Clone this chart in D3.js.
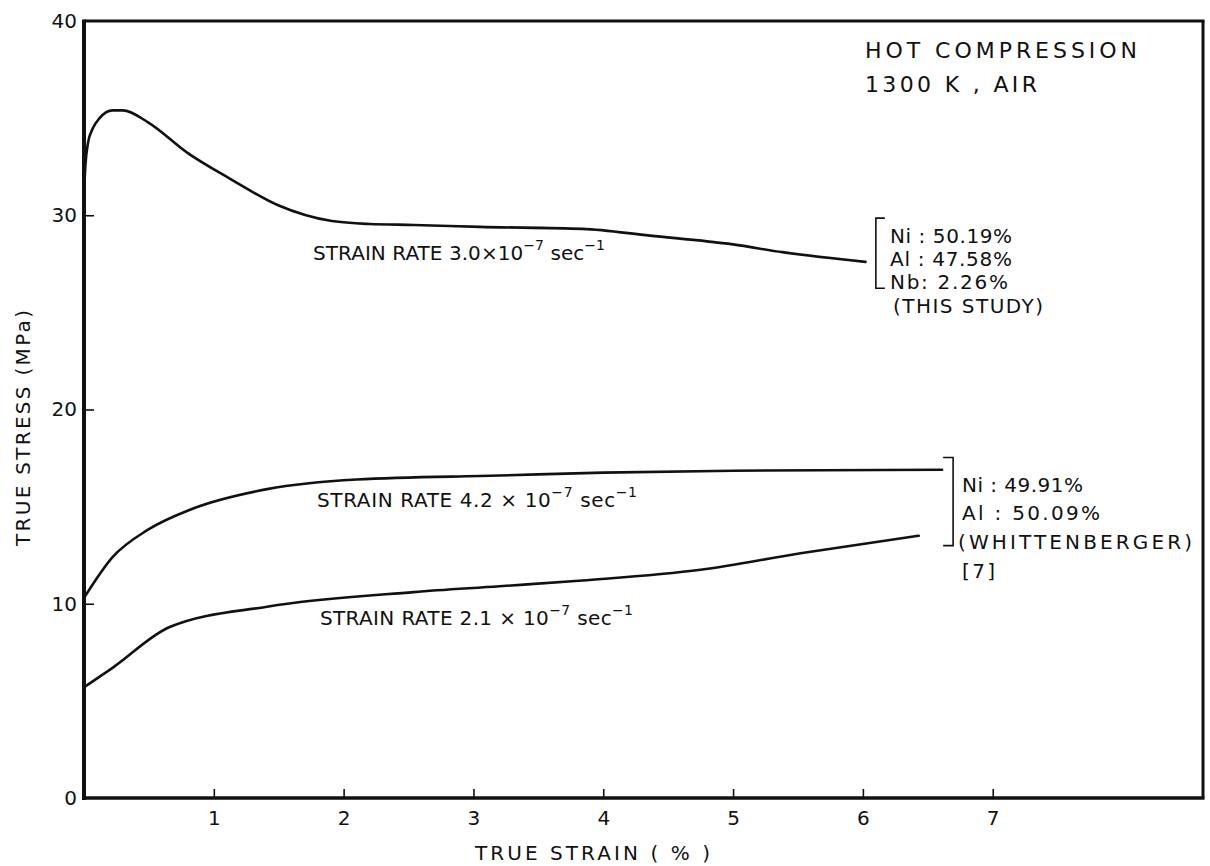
<!DOCTYPE html>
<html>
<head>
<meta charset="utf-8">
<script src="https://cdn.jsdelivr.net/npm/d3@7"></script>
<style>
  html, body { margin: 0; padding: 0; background: #fff; }
  svg { display: block; }
  text { font-family: "DejaVu Sans", "Liberation Sans", sans-serif; fill: #111; }
</style>
</head>
<body>
<svg id="chart" width="1210" height="866"></svg>
<script>
// ---- data ----
const xTicks = [1, 2, 3, 4, 5, 6, 7];
const yTicks = [0, 10, 20, 30, 40];

// strain rate 3.0e-7 (this study)
const strainA = [0, 0.01, 0.03, 0.07, 0.12, 0.22, 0.30, 0.49, 0.80, 1.12, 1.50, 1.91, 2.20, 2.54, 3.05, 3.84, 4.36, 5.00, 5.38, 6.02];
const stressA = [31.2, 32.5, 33.7, 34.5, 35.0, 35.4, 35.4, 34.8, 33.2, 31.9, 30.5, 29.7, 29.55, 29.5, 29.4, 29.3, 28.95, 28.5, 28.1, 27.6];

// strain rate 4.2e-7 (Whittenberger)
const strainB = [0, 0.22, 0.49, 0.84, 1.41, 2.10, 3.20, 4.00, 5.00, 6.61];
const stressB = [10.3, 12.4, 13.8, 14.9, 15.9, 16.4, 16.6, 16.75, 16.85, 16.9];

// strain rate 2.1e-7 (Whittenberger)
const strainC = [0, 0.22, 0.66, 1.41, 2.54, 3.20, 3.84, 4.75, 5.52, 6.43];
const stressC = [5.7, 6.7, 8.8, 9.85, 10.6, 10.9, 11.2, 11.75, 12.6, 13.5];

const seriesLabels = [
  { pre: "STRAIN RATE 3.0\u00d710", exp1: "\u22127", mid: " sec", exp2: "\u22121" },
  { pre: "STRAIN RATE 4.2 \u00d7 10", exp1: "\u22127", mid: " sec", exp2: "\u22121" },
  { pre: "STRAIN RATE 2.1 \u00d7 10", exp1: "\u22127", mid: " sec", exp2: "\u22121" }
];

// ---- layout ----
const L = 84, R = 1203, T = 21, B = 798;
const svg = d3.select("#chart");
const x = d3.scaleLinear().domain([0, 8.62]).range([L, R]);
const y = d3.scaleLinear().domain([0, 40]).range([B, T]);

// axes
const gx = svg.append("g").attr("transform", `translate(0,${B})`)
  .call(d3.axisBottom(x).tickValues(xTicks).tickSize(-9).tickPadding(13).tickFormat(d3.format("d")));
const gy = svg.append("g").attr("transform", `translate(${L},0)`)
  .call(d3.axisLeft(y).tickValues(yTicks).tickSize(-10).tickPadding(7).tickFormat(d3.format("d")));
[gx, gy].forEach(g => {
  g.select(".domain").remove();
  g.selectAll(".tick line").attr("stroke", "#111").attr("stroke-width", 1.6);
  g.selectAll(".tick text").attr("font-size", 20).attr("fill", "#111")
    .style("font-family", '"DejaVu Sans", sans-serif');
});
gy.selectAll(".tick").filter(d => d === 0 || d === 40).select("line").remove();

// frame
svg.append("line").attr("x1", L).attr("x2", L).attr("y1", T - 1.5).attr("y2", B + 2)
  .attr("stroke", "#111").attr("stroke-width", 4);
svg.append("line").attr("x1", L - 2).attr("x2", R + 1.5).attr("y1", B).attr("y2", B)
  .attr("stroke", "#111").attr("stroke-width", 3.5);
svg.append("line").attr("x1", L).attr("x2", R + 1.5).attr("y1", T).attr("y2", T)
  .attr("stroke", "#111").attr("stroke-width", 3);
svg.append("line").attr("x1", R).attr("x2", R).attr("y1", T).attr("y2", B)
  .attr("stroke", "#111").attr("stroke-width", 3);

// curves
const line = d3.line().x(d => x(d[0])).y(d => y(d[1])).curve(d3.curveMonotoneX);
[[strainA, stressA], [strainB, stressB], [strainC, stressC]].forEach(([sx, sy]) => {
  svg.append("path").datum(sx.map((v, i) => [v, sy[i]]))
    .attr("d", line).attr("fill", "none").attr("stroke", "#111")
    .attr("stroke-width", 2.6).attr("stroke-linejoin", "round").attr("stroke-linecap", "round");
});

// series labels
const labelPos = [
  { x: 313, y: 260, w: 292 },
  { x: 317, y: 507, w: 320 },
  { x: 320, y: 625, w: 313 }
];
seriesLabels.forEach((lab, i) => {
  const p = labelPos[i];
  const t = svg.append("text").attr("x", p.x).attr("y", p.y).attr("font-size", 20)
    .attr("textLength", p.w).attr("lengthAdjust", "spacing");
  t.append("tspan").text(lab.pre);
  t.append("tspan").attr("dy", -10).attr("font-size", 14).text(lab.exp1);
  t.append("tspan").attr("dy", 10).text(lab.mid);
  t.append("tspan").attr("dy", -10).attr("font-size", 14).text(lab.exp2);
});

// annotation text helper
function txt(s, px, py, w, size) {
  const t = svg.append("text").attr("x", px).attr("y", py).attr("font-size", size || 20).text(s);
  if (w) t.attr("textLength", w).attr("lengthAdjust", "spacing");
  return t;
}
txt("HOT COMPRESSION", 865, 58, 272, 22);
txt("1300 K  , AIR", 865, 92, 172, 22);

// bracket for this study
const b1x = x(6.10), b1t = y(29.85), b1b = y(26.24);
svg.append("path").attr("d", `M${b1x + 9},${b1t} H${b1x} V${b1b} H${b1x + 9}`)
  .attr("fill", "none").attr("stroke", "#111").attr("stroke-width", 1.6);
txt("Ni : 50.19%", 890, 243, 122);
txt("Al : 47.58%", 890, 266, 122);
txt("Nb:  2.26%", 890, 289, 118);
txt("(THIS STUDY)", 893, 313, 150);

// bracket for Whittenberger
const b2x = x(6.695), b2t = y(17.53), b2b = y(12.99);
svg.append("path").attr("d", `M${b2x - 10},${b2t} H${b2x} V${b2b} H${b2x - 10}`)
  .attr("fill", "none").attr("stroke", "#111").attr("stroke-width", 1.6);
txt("Ni : 49.91%", 962, 492, 121);
txt("Al :  50.09%", 962, 520, 138);
txt("(WHITTENBERGER)", 958, 549, 234);
txt("[7]", 962, 578, 33);

// axis titles
txt("TRUE STRAIN ( % )", 475, 860, 235, 20);
svg.append("text").attr("transform", "translate(30,428) rotate(-90)")
  .attr("text-anchor", "middle").attr("font-size", 20)
  .attr("textLength", 236).attr("lengthAdjust", "spacing")
  .text("TRUE STRESS  (MPa)");
</script>
</body>
</html>
